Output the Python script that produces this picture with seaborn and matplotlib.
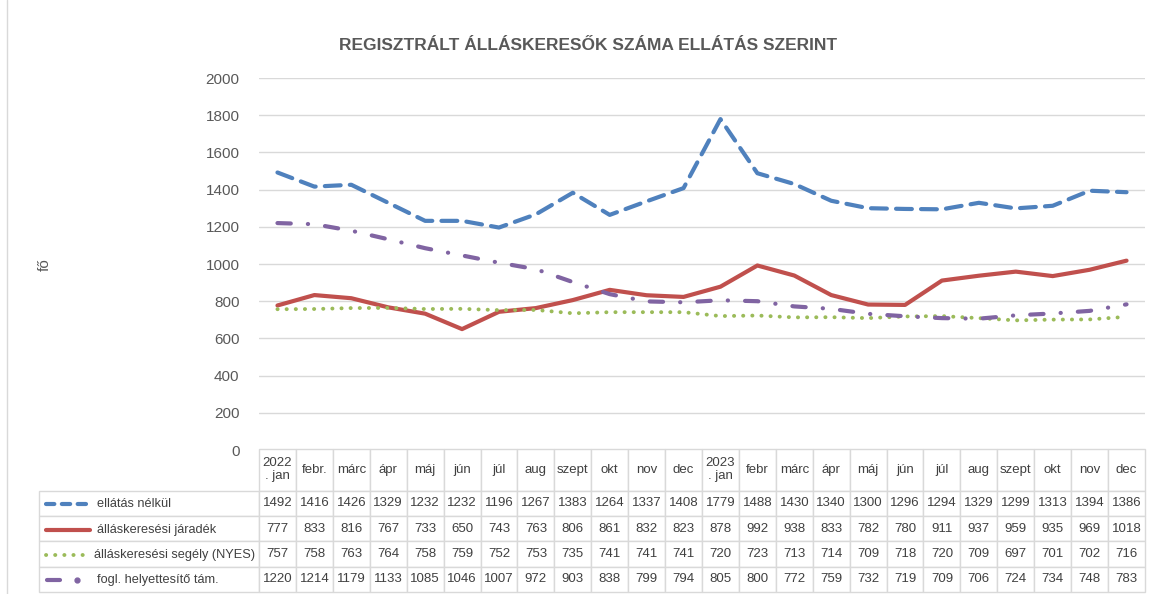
import numpy as np
import matplotlib
matplotlib.use("Agg")
import matplotlib.pyplot as plt
import seaborn as sns
from matplotlib.lines import Line2D

months = ["2022\n. jan", "febr.", "márc", "ápr", "máj", "jún", "júl", "aug", "szept", "okt", "nov", "dec",
          "2023\n. jan", "febr", "márc", "ápr", "máj", "jún", "júl", "aug", "szept", "okt", "nov", "dec"]
ellatas_nelkul = [1492, 1416, 1426, 1329, 1232, 1232, 1196, 1267, 1383, 1264, 1337, 1408,
                  1779, 1488, 1430, 1340, 1300, 1296, 1294, 1329, 1299, 1313, 1394, 1386]
jaradek = [777, 833, 816, 767, 733, 650, 743, 763, 806, 861, 832, 823,
           878, 992, 938, 833, 782, 780, 911, 937, 959, 935, 969, 1018]
segely = [757, 758, 763, 764, 758, 759, 752, 753, 735, 741, 741, 741,
          720, 723, 713, 714, 709, 718, 720, 709, 697, 701, 702, 716]
fht = [1220, 1214, 1179, 1133, 1085, 1046, 1007, 972, 903, 838, 799, 794,
       805, 800, 772, 759, 732, 719, 709, 706, 724, 734, 748, 783]
series_names = ["ellátás nélkül", "álláskeresési járadék", "álláskeresési segély (NYES)", "fogl. helyettesítő tám."]
series_vals = [ellatas_nelkul, jaradek, segely, fht]
yticks = [0, 200, 400, 600, 800, 1000, 1200, 1400, 1600, 1800, 2000]

sns.set_theme(style="white")
plt.rcParams["font.family"] = ["Liberation Sans", "DejaVu Sans"]

W, H = 1151, 594
fig = plt.figure(figsize=(W / 100, H / 100), dpi=100)
ax_l, ax_r, ax_t, ax_b = 259, 1145, 78, 450
ax = fig.add_axes([ax_l / W, 1 - ax_b / H, (ax_r - ax_l) / W, (ax_b - ax_t) / H])

styles = [
    dict(color="#4F81BD", lw=3.0, dashes=(3.8, 2.2)),
    dict(color="#C0504D", lw=3.0, dashes=None),
    dict(color="#9BBB59", lw=2.8, dashes=(0.05, 2.3)),
    dict(color="#8064A2", lw=3.0, dashes=(3.2, 4.1, 0.05, 4.1)),
]
x = np.arange(len(months))
for vals, st in zip(series_vals, styles):
    sns.lineplot(x=x, y=vals, ax=ax, color=st["color"], linewidth=st["lw"])
    ln = ax.get_lines()[-1]
    if st["dashes"] is not None:
        ln.set_dashes(st["dashes"])
    ln.set_dash_capstyle("round")
    ln.set_solid_capstyle("round")

ax.set_xlim(-0.5, len(months) - 0.5)
ax.set_ylim(0, 2000)
ax.set_yticks(yticks)
ax.set_yticklabels([str(v) for v in yticks], fontsize=11, color="#595959")
ax.tick_params(axis="y", length=0, pad=14)
ax.set_xticks([])
ax.grid(axis="y", color="#D9D9D9", linewidth=1)
ax.set_axisbelow(True)
for s in ax.spines.values():
    s.set_visible(False)

# data table
tab_left, tab_top, tab_bot = 39, 449, 592
ncols = len(months)
cell_text = [[""] + months]
for vals in series_vals:
    cell_text.append([""] + [str(v) for v in vals])
col_w = [220] + [(ax_r - ax_l) / ncols] * ncols
ah = ax_b - ax_t
aw = ax_r - ax_l
tbl = ax.table(cellText=cell_text, colWidths=col_w, cellLoc="center",
               bbox=[(tab_left - ax_l) / aw, -(tab_bot - ax_b) / ah,
                     (ax_r - tab_left) / aw, (tab_bot - tab_top) / ah])
tbl.auto_set_font_size(False)
tbl.set_fontsize(9.5)
for (r, c), cell in tbl.get_celld().items():
    cell.set_edgecolor("#D9D9D9")
    cell.set_linewidth(1)
    cell.get_text().set_color("#404040")
    cell.set_height(42 if r == 0 else 25.5)
    if r == 0 and c == 0:
        cell.visible_edges = ""
    if r == 0:
        cell.get_text().set_linespacing(1.1)

row_centers = [504, 530, 555, 580]
for name, st, yc in zip(series_names, styles, row_centers):
    yf = 1 - yc / H
    if name.startswith("fogl"):
        fig.add_artist(Line2D([47 / W, 60 / W], [yf, yf], color=st["color"], lw=st["lw"],
                              solid_capstyle="round", transform=fig.transFigure))
        fig.add_artist(Line2D([77 / W], [yf], color=st["color"], marker="o", markersize=3.5,
                              linestyle="none", transform=fig.transFigure))
        tx = 97
    else:
        ln = Line2D([46 / W, 90 / W], [yf, yf], color=st["color"], lw=st["lw"],
                    transform=fig.transFigure)
        if name == "ellátás nélkül":
            ln.set_dashes((2.0, 1.8))
        elif st["dashes"] is not None:
            ln.set_dashes(st["dashes"])
        ln.set_dash_capstyle("round")
        ln.set_solid_capstyle("round")
        fig.add_artist(ln)
        tx = 97 if name != "álláskeresési segély (NYES)" else 94
    fig.text(tx / W, yf, name, fontsize=9.2, color="#404040", va="center", ha="left")

fig.text(588 / W, 1 - 45 / H, "REGISZTRÁLT ÁLLÁSKERESŐK SZÁMA ELLÁTÁS SZERINT",
         fontsize=12.5, fontweight="bold", color="#595959", ha="center", va="center")
fig.text(45 / W, 1 - 265 / H, "fő", fontsize=11, color="#595959", rotation=90,
         ha="center", va="center")
fig.add_artist(Line2D([7 / W, 7 / W], [0, 1], color="#D9D9D9", lw=1, transform=fig.transFigure))

fig.savefig("out.png", dpi=100)
